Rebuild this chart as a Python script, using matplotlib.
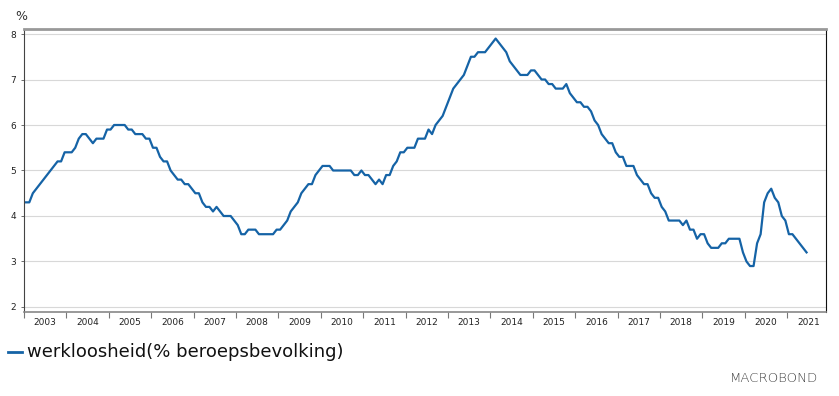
import matplotlib
matplotlib.use("Agg")
import matplotlib.pyplot as plt
import numpy as np

# monthly unemployment, % of labour force (Jan 2003 - Jun 2021)
u2003 = [4.3, 4.3, 4.5, 4.6, 4.7, 4.8, 4.9, 5.0, 5.1, 5.2, 5.2, 5.4]
u2004 = [5.4, 5.4, 5.5, 5.7, 5.8, 5.8, 5.7, 5.6, 5.7, 5.7, 5.7, 5.9]
u2005 = [5.9, 6.0, 6.0, 6.0, 6.0, 5.9, 5.9, 5.8, 5.8, 5.8, 5.7, 5.7]
u2006 = [5.5, 5.5, 5.3, 5.2, 5.2, 5.0, 4.9, 4.8, 4.8, 4.7, 4.7, 4.6]
u2007 = [4.5, 4.5, 4.3, 4.2, 4.2, 4.1, 4.2, 4.1, 4.0, 4.0, 4.0, 3.9]
u2008 = [3.8, 3.6, 3.6, 3.7, 3.7, 3.7, 3.6, 3.6, 3.6, 3.6, 3.6, 3.7]
u2009 = [3.7, 3.8, 3.9, 4.1, 4.2, 4.3, 4.5, 4.6, 4.7, 4.7, 4.9, 5.0]
u2010 = [5.1, 5.1, 5.1, 5.0, 5.0, 5.0, 5.0, 5.0, 5.0, 4.9, 4.9, 5.0]
u2011 = [4.9, 4.9, 4.8, 4.7, 4.8, 4.7, 4.9, 4.9, 5.1, 5.2, 5.4, 5.4]
u2012 = [5.5, 5.5, 5.5, 5.7, 5.7, 5.7, 5.9, 5.8, 6.0, 6.1, 6.2, 6.4]
u2013 = [6.6, 6.8, 6.9, 7.0, 7.1, 7.3, 7.5, 7.5, 7.6, 7.6, 7.6, 7.7]
u2014 = [7.8, 7.9, 7.8, 7.7, 7.6, 7.4, 7.3, 7.2, 7.1, 7.1, 7.1, 7.2]
u2015 = [7.2, 7.1, 7.0, 7.0, 6.9, 6.9, 6.8, 6.8, 6.8, 6.9, 6.7, 6.6]
u2016 = [6.5, 6.5, 6.4, 6.4, 6.3, 6.1, 6.0, 5.8, 5.7, 5.6, 5.6, 5.4]
u2017 = [5.3, 5.3, 5.1, 5.1, 5.1, 4.9, 4.8, 4.7, 4.7, 4.5, 4.4, 4.4]
u2018 = [4.2, 4.1, 3.9, 3.9, 3.9, 3.9, 3.8, 3.9, 3.7, 3.7, 3.5, 3.6]
u2019 = [3.6, 3.4, 3.3, 3.3, 3.3, 3.4, 3.4, 3.5, 3.5, 3.5, 3.5, 3.2]
u2020 = [3.0, 2.9, 2.9, 3.4, 3.6, 4.3, 4.5, 4.6, 4.4, 4.3, 4.0, 3.9]
u2021 = [3.6, 3.6, 3.5, 3.4, 3.3, 3.2]

years = list(range(2003, 2022))
series_label = "werkloosheid(% beroepsbevolking)"

values = (u2003 + u2004 + u2005 + u2006 + u2007 + u2008 + u2009 + u2010 + u2011
          + u2012 + u2013 + u2014 + u2015 + u2016 + u2017 + u2018 + u2019 + u2020 + u2021)
t = 2003 + (np.arange(len(values)) + 0.5) / 12.0

blue = "#1563a6"

fig = plt.figure(figsize=(8.39, 3.96), dpi=100)
ax = fig.add_axes([24/839, 1 - 312/396, (825.7 - 24)/839, (312 - 29)/396])

ax.plot(t, values, color=blue, lw=1.6, solid_joinstyle="round")

ax.set_xlim(2003, 2021.91)
ax.set_ylim(1.89, 8.11)

ax.set_yticks(range(2, 9))
ax.yaxis.grid(True, color="#d8d8d8", lw=0.8)
ax.set_axisbelow(True)
ax.tick_params(axis="y", length=2.5, width=0.6, color="#555555", labelsize=6.5,
               labelcolor="#222222", pad=3)

# year boundaries as ticks, year names centred between them
ax.set_xticks(years)
ax.set_xticklabels([])
ax.set_xticks([y + 0.5 for y in years], minor=True)
ax.set_xticklabels([str(y) for y in years], minor=True)
ax.tick_params(axis="x", which="major", length=4, width=0.8, color="#777777")
ax.tick_params(axis="x", which="minor", length=0, labelsize=6.5, labelcolor="#222222", pad=4)

ax.spines["top"].set_color("#999999")
ax.spines["top"].set_linewidth(2)
ax.spines["bottom"].set_color("#888888")
ax.spines["bottom"].set_linewidth(1.2)
ax.spines["left"].set_color("#444444")
ax.spines["left"].set_linewidth(0.8)
ax.spines["right"].set_color("#111111")
ax.spines["right"].set_linewidth(0.8)

fig.text(15/839, 1 - 17/396, "%", fontsize=9, color="#333333", va="center", ha="left")

# legend
fig.add_artist(plt.Line2D([8/839, 22/839], [1 - 352/396, 1 - 352/396], color=blue, lw=2))
fig.text(27/839, 1 - 352/396, series_label, fontsize=13, color="#111111", va="center", ha="left")

fig.text(818/839, 1 - 378/396, "MACROBOND", fontsize=9.5, color="#444444",
         va="center", ha="right", fontweight="light")

fig.savefig("out.png", dpi=100)
